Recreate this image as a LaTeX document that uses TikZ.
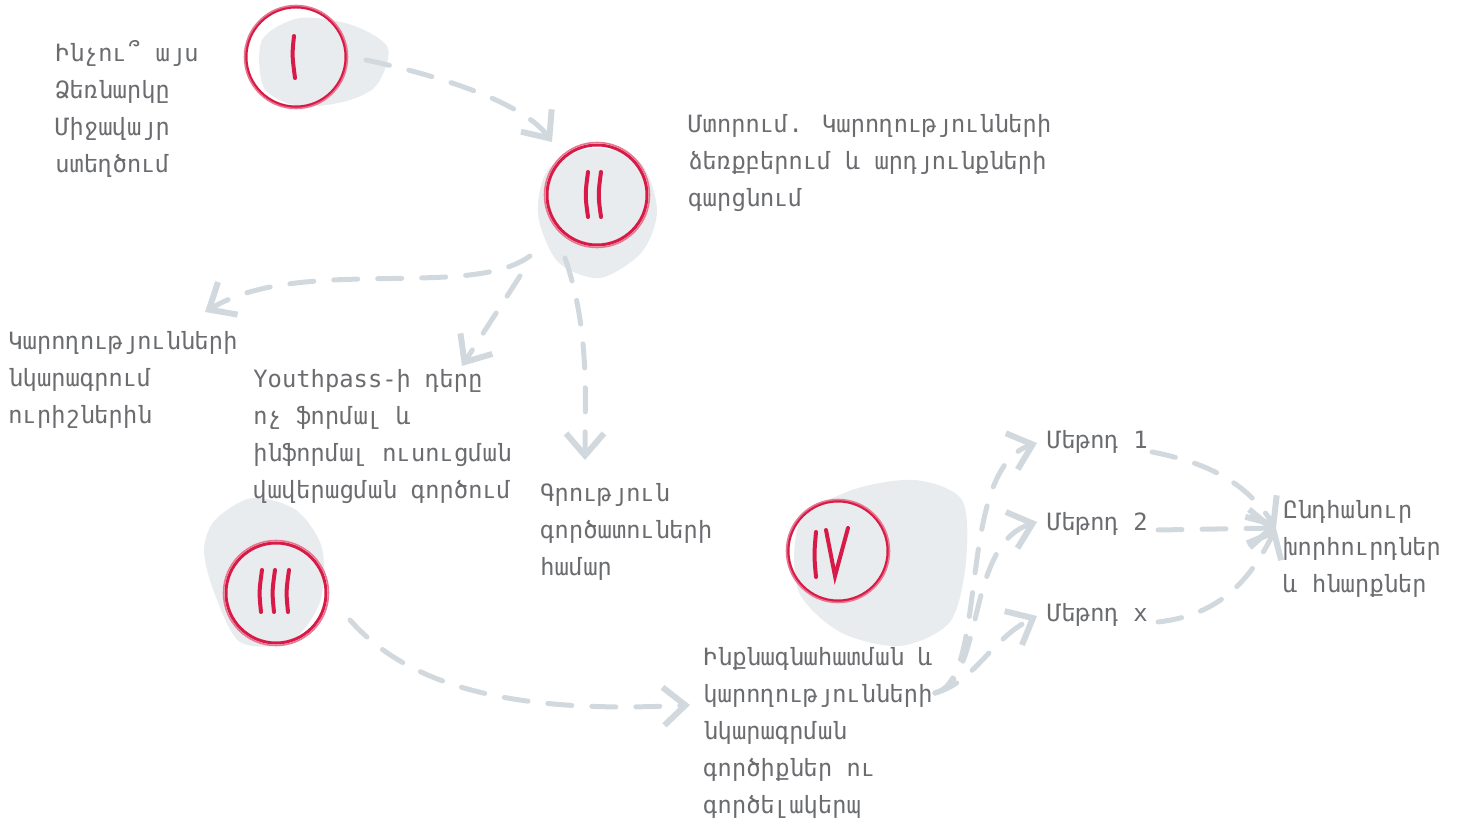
\documentclass[tikz,border=0pt]{standalone}
\usepackage{fontspec}
\newfontfamily\armfont{DejaVu Sans Mono}
\usetikzlibrary{arrows.meta}
\definecolor{ink}{HTML}{6B6C6F}
\definecolor{arrowc}{HTML}{D1D9DE}
\definecolor{ringc}{HTML}{D71A48}
\definecolor{blobc}{HTML}{E9ECEE}
\begin{document}
\begin{tikzpicture}[x=0.5pt,y=-0.5pt,
  txt/.style={font=\armfont\fontsize{11.9}{18.5}\selectfont, text=ink, align=left, anchor=north west, inner sep=0pt},
  ring/.style={circle, draw=ringc, line width=1.5pt, minimum size=50pt, inner sep=0pt},
  numeral/.style={draw=ringc, line width=2pt, line cap=round},
  blob/.style={fill=blobc, draw=none},
  flow/.style={draw=arrowc, line width=2.5pt, line cap=round, dash pattern=on 12pt off 10pt,
     -{Straight Barb[length=11pt,width=19pt,line width=3pt]}}
]
\useasboundingbox (0,0) rectangle (1472,822);
% splotches
\fill[blob] plot[smooth cycle] coordinates {(262,40) (300,18) (352,25) (388,48) (376,86) (343,102) (298,106) (264,88)};
\fill[blob] plot[smooth cycle] coordinates {(548,170) (592,148) (640,162) (657,210) (642,252) (600,278) (558,262) (538,215)};
\fill[blob] plot[smooth cycle] coordinates {(215,520) (252,498) (296,510) (322,548) (320,602) (290,642) (240,642) (214,592) (204,550)};
\fill[blob] plot[smooth cycle] coordinates {(800,522) (852,490) (915,480) (962,500) (966,562) (950,622) (900,646) (840,632) (798,590)};
% rings
\node[ring] (c1) at (296,57) {};
\node[ring] (c2) at (597,195) {};
\node[ring] (c3) at (276,593) {};
\node[ring] (c4) at (838,551) {};
\draw[ringc!60, line width=0.8pt] (c1.center) circle[radius=51.5];
\draw[ringc!60, line width=0.8pt] (c2.center) circle[radius=52.5];
\draw[ringc!60, line width=0.8pt] (c3.center) circle[radius=52.5];
\draw[ringc!60, line width=0.8pt] (c4.center) circle[radius=51.5];
% numerals
\draw[numeral] (294,36) .. controls (292,55) .. (295,78);
\draw[numeral] (588,172) .. controls (585,195) .. (588,217);
\draw[numeral] (601,172) .. controls (598,195) .. (601,217);
\draw[numeral] (262,570) .. controls (259,592) .. (261,612);
\draw[numeral] (275,570) .. controls (272,592) .. (274,612);
\draw[numeral] (289,570) .. controls (286,592) .. (288,612);
\draw[numeral] (816,532) .. controls (814,555) .. (816,577);
\draw[numeral] (826,530) -- (835,576) -- (848,528);
% texts
\node[txt] (t1) at (55,40) {Ինչու՞ այս\\Ձեռնարկը\\Միջավայր\\ստեղծում};
\node[txt] (t2) at (688,114) {Մտորում. Կարողությունների\\ձեռքբերում և արդյունքների\\գարցնում};
\node[txt] (t3) at (8,331) {Կարողությունների\\նկարագրում\\ուրիշներին};
\node[txt] (t4) at (253,369) {Youthpass-ի դերը\\ոչ ֆորմալ և\\ինֆորմալ ուսուցման\\վավերացման գործում};
\node[txt] (t5) at (540,483) {Գրություն\\գործատուների\\համար};
\node[txt] (t6) at (703,647) {Ինքնագնահատման և\\կարողությունների\\նկարագրման\\գործիքներ ու\\գործելակերպ};
\node[txt] (m1) at (1047,430) {Մեթոդ 1};
\node[txt] (m2) at (1047,512) {Մեթոդ 2};
\node[txt] (mx) at (1047,603) {Մեթոդ x};
\node[txt] (t8) at (1283,500) {Ընդհանուր\\խորհուրդներ\\և հնարքներ};
% connector end points
\coordinate (s1) at (366,60);
\coordinate (e1) at (552,142);
\coordinate (s2) at (530,256);
\coordinate (e2) at (205,312);
\coordinate (s3) at (520,276);
\coordinate (e3) at (462,366);
\coordinate (s4) at (565,258);
\coordinate (e4) at (585,460);
\coordinate (s5) at (350,620);
\coordinate (e5) at (690,705);
\coordinate (s6) at (935,693);
\coordinate (e61) at (1037,443);
\coordinate (e62) at (1037,522);
\coordinate (e6x) at (1037,616);
\coordinate (s71) at (1152,452);
\coordinate (s72) at (1158,530);
\coordinate (s7x) at (1158,622);
\coordinate (e7) at (1276,528);
% connectors
\draw[flow] (s1) .. controls (450,78) and (525,105) .. (e1);
\draw[flow] (s2) .. controls (470,300) and (300,255) .. (e2);
\draw[flow] (s3) -- (e3);
\draw[flow] (s4) .. controls (590,330) and (585,400) .. (e4);
\draw[flow] (s5) .. controls (420,700) and (550,712) .. (e5);
\draw[flow] (s6) .. controls (990,680) and (955,470) .. (e61);
\draw[flow] (s6) .. controls (985,680) and (965,545) .. (e62);
\draw[flow] (s6) .. controls (975,682) and (990,640) .. (e6x);
\draw[flow] (s71) .. controls (1220,465) and (1250,490) .. (e7);
\draw[flow] (s72) -- (e7);
\draw[flow] (s7x) .. controls (1220,615) and (1250,580) .. (e7);
\end{tikzpicture}
\end{document}
